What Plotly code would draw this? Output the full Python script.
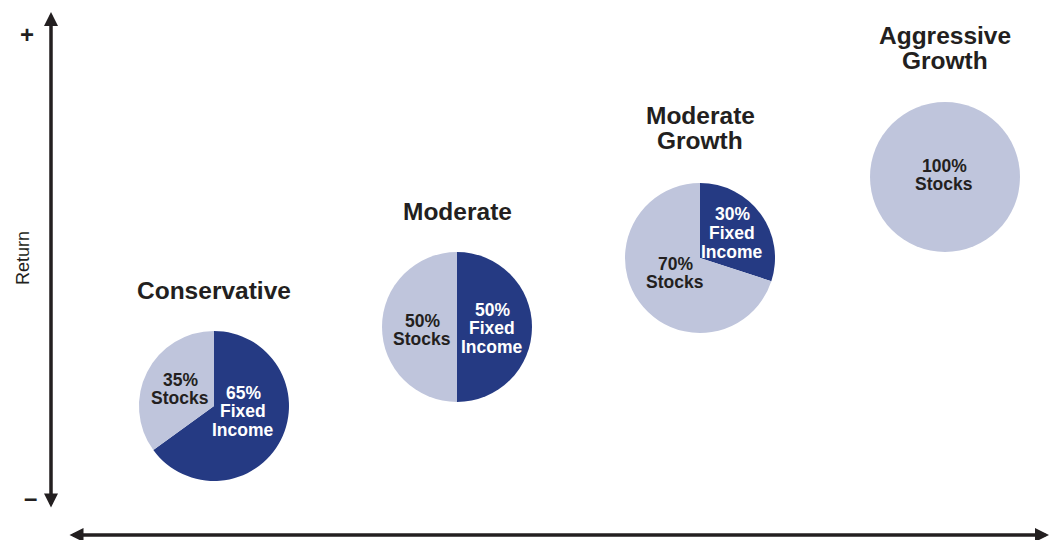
import plotly.graph_objects as go

W, H = 1051, 540

# ---- data ----
profiles = ["Conservative", "Moderate", "Moderate Growth", "Aggressive Growth"]
fixed_income = [65, 50, 30, 0]
stocks = [35, 50, 70, 100]
slice_names = ["Fixed Income", "Stocks"]

# ---- layout (pixel positions) ----
centers = [(214, 406), (457, 327), (700, 258), (945, 177)]
R = 75
title_y = [290, 211, 128, 48]
fi_label_pos = [(243, 411), (492, 328), (732, 233), None]
st_label_pos = [(180, 389), (422, 330), (675, 273), (944, 175)]

DARK = "#253A83"
LIGHT = "#BFC5DC"
INK = "#231F20"
FONT = "Liberation Sans"

fig = go.Figure()


def px(x):
    return x / W


def py(y):
    return 1 - y / H


for i, name in enumerate(profiles):
    cx, cy = centers[i]
    fig.add_trace(go.Pie(
        labels=slice_names,
        values=[fixed_income[i], stocks[i]],
        sort=False,
        direction="clockwise",
        rotation=0,
        marker=dict(colors=[DARK, LIGHT], line=dict(width=0)),
        textinfo="none",
        hoverinfo="label+percent",
        showlegend=False,
        domain=dict(x=[px(cx - R), px(cx + R)], y=[py(cy + R), py(cy - R)]),
    ))

annotations = []


def add_lines(lines, cx, cy, size, color, spacing, bold=True):
    n = len(lines)
    for k, line in enumerate(lines):
        yk = cy + (k - (n - 1) / 2) * spacing
        txt = f"<b>{line}</b>" if bold else line
        annotations.append(dict(
            x=px(cx), y=py(yk), xref="paper", yref="paper",
            text=txt, showarrow=False, xanchor="center", yanchor="middle",
            font=dict(family=FONT, size=size, color=color),
        ))


for i, name in enumerate(profiles):
    cx, cy = centers[i]
    add_lines(name.split(" "), cx, title_y[i], 24.5, INK, 25)
    if fixed_income[i] > 0 and fi_label_pos[i]:
        fx, fy = fi_label_pos[i]
        add_lines([f"{fixed_income[i]}%", "Fixed", "Income"], fx, fy, 17.5, "white", 18.5)
    sx, sy = st_label_pos[i]
    add_lines([f"{stocks[i]}%", "Stocks"], sx, sy, 17.5, INK, 18.5)

# axis arrows
annotations.append(dict(
    x=px(51), y=py(12), xref="paper", yref="paper",
    ax=0, ay=497, axref="pixel", ayref="pixel",
    showarrow=True, arrowhead=2, arrowside="end+start", arrowsize=0.8,
    arrowwidth=3.5, arrowcolor=INK, text="",
))
annotations.append(dict(
    x=px(1049), y=py(535), xref="paper", yref="paper",
    ax=-981, ay=0, axref="pixel", ayref="pixel",
    showarrow=True, arrowhead=2, arrowside="end+start", arrowsize=0.8,
    arrowwidth=3.5, arrowcolor=INK, text="",
))

annotations.append(dict(
    x=px(23), y=py(258), xref="paper", yref="paper", text="Return",
    xanchor="center", yanchor="middle",
    textangle=-90, showarrow=False, font=dict(family=FONT, size=18, color=INK),
))
annotations.append(dict(
    x=px(27), y=py(34), xref="paper", yref="paper", text="<b>+</b>",
    xanchor="center", yanchor="middle",
    showarrow=False, font=dict(family=FONT, size=24, color=INK),
))
annotations.append(dict(
    x=px(30), y=py(497), xref="paper", yref="paper", text="<b>–</b>",
    xanchor="center", yanchor="middle",
    showarrow=False, font=dict(family=FONT, size=24, color=INK),
))

fig.update_layout(
    width=W, height=H,
    margin=dict(l=0, r=0, t=0, b=0),
    paper_bgcolor="white", plot_bgcolor="white",
    annotations=annotations,
)

fig.write_html(
    "out.html",
    config={"displayModeBar": False},
    post_script="document.body.style.margin='0';document.body.style.overflow='hidden';",
)
